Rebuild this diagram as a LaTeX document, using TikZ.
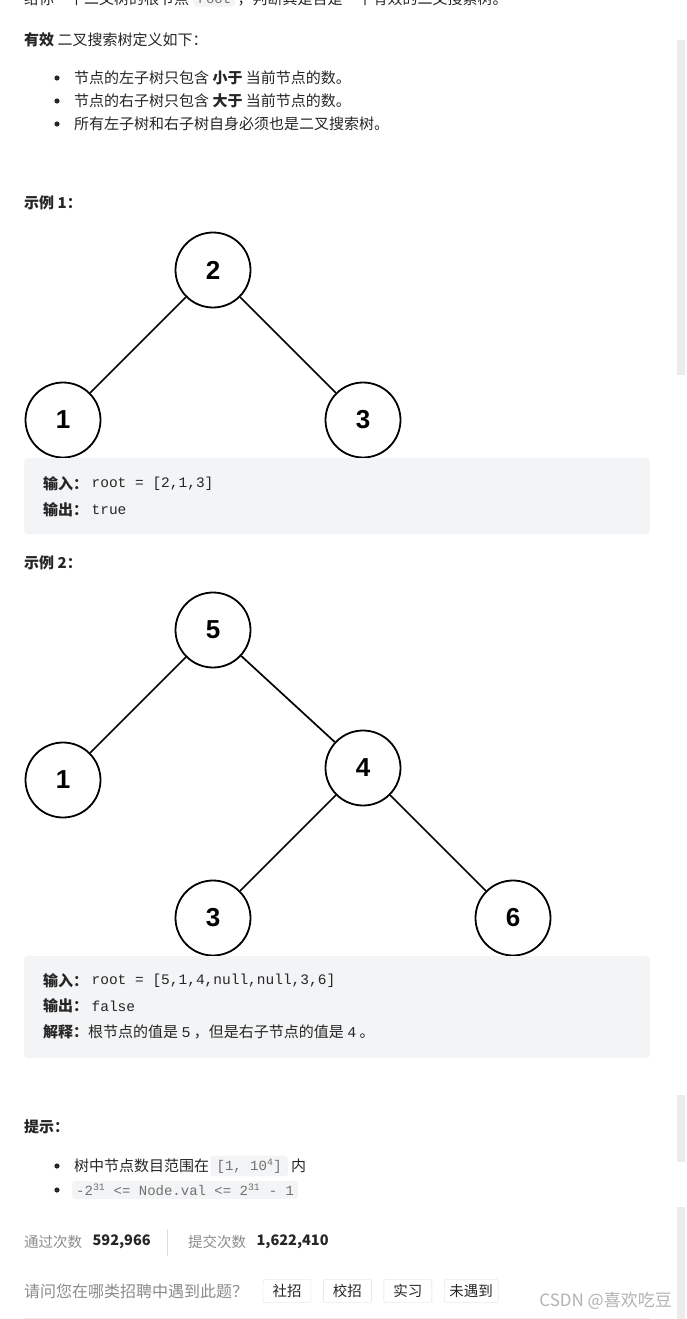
\documentclass[tikz,border=0pt]{standalone}
\usepackage{fontspec}
\setmainfont{Noto Sans CJK SC}
\setmonofont{Liberation Mono}
\newfontfamily\numfont{Liberation Sans}
\usetikzlibrary{positioning}
\definecolor{ink}{RGB}{38,38,38}
\definecolor{softgray}{RGB}{140,140,140}
\definecolor{codebg}{RGB}{243,244,245}
\definecolor{scrollgray}{RGB}{235,235,235}
\definecolor{btnline}{RGB}{220,220,220}

\begin{document}
\begin{tikzpicture}[
        x=1pt,y=-1pt,
        bst/.style={draw,circle,line width=1.8pt,minimum size=75pt,inner sep=0pt,fill=white,font=\numfont\bfseries\fontsize{26}{26}\selectfont},
        edge/.style={line width=1.7pt},
        txt/.style={anchor=west,inner sep=0pt,text=ink,font=\fontsize{15}{18}\selectfont},
        code/.style={anchor=west,inner sep=0pt,text=ink,font=\ttfamily\fontsize{14.5}{17}\selectfont},
        inlinecode/.style={anchor=west,fill=codebg,rounded corners=3pt,inner xsep=4pt,inner ysep=3pt,text=softgray!80!black,font=\ttfamily\fontsize{14}{16}\selectfont},
        codebox/.style={fill=codebg,rounded corners=4pt},
        stat/.style={anchor=west,inner sep=0pt,text=softgray,font=\fontsize{14.5}{17}\selectfont},
        btn/.style={draw=btnline,rounded corners=2pt,minimum width=48pt,minimum height=23pt,inner xsep=5pt,text=ink,font=\fontsize{14.5}{17}\selectfont},
        bullet/.style={fill=ink},
    ]
    \fill[white] (0,0) rectangle (687,1319);
    \useasboundingbox (0,0) rectangle (687,1319);

    % scroll bars at the right edge
    \fill[scrollgray] (677,40) rectangle (685,375);
    \fill[scrollgray] (677,1095) rectangle (685,1162);
    \fill[scrollgray] (677,1207) rectangle (685,1319);

    % statement
    \node[txt] (intro) at (24,-1) {给你一个二叉树的根节点};
    \node[inlinecode,right=4pt of intro] (rootcode) {root};
    \node[txt,right=2pt of rootcode] (introb) {，判断其是否是一个有效的二叉搜索树。};

    \node[txt] (def) at (24,40) {\textbf{有效} 二叉搜索树定义如下：};
    \foreach \y/\t in {78/{节点的左子树只包含 \textbf{小于} 当前节点的数。},
                       101/{节点的右子树只包含 \textbf{大于} 当前节点的数。},
                       124/{所有左子树和右子树自身必须也是二叉搜索树。}} {
        \fill[bullet] (57,\y) circle (2.6);
        \node[txt] at (74,\y) {\t};
    }

    % example 1
    \node[txt] (ex1) at (24,203) {\textbf{示例 1：}};
    \node[bst] (a2) at (213,270) {2};
    \node[bst] (a1) at (63,420) {1};
    \node[bst] (a3) at (363,420) {3};
    \draw[edge] (a2) -- (a1);
    \draw[edge] (a2) -- (a3);
    \fill[codebox] (24,458) rectangle (650,534);
    \node[txt] (in1) at (43,484) {\textbf{输入：}};
    \node[code,right=3pt of in1] {root = [2,1,3]};
    \node[txt] (out1) at (43,510) {\textbf{输出：}};
    \node[code,right=3pt of out1] {true};

    % example 2
    \node[txt] (ex2) at (24,563) {\textbf{示例 2：}};
    \node[bst] (b5) at (213,630) {5};
    \node[bst] (b1) at (63,780) {1};
    \node[bst] (b4) at (363,768) {4};
    \node[bst] (b3) at (213,918) {3};
    \node[bst] (b6) at (513,918) {6};
    \draw[edge] (b5) -- (b1);
    \draw[edge] (b5) -- (b4);
    \draw[edge] (b4) -- (b3);
    \draw[edge] (b4) -- (b6);
    \fill[codebox] (24,956) rectangle (650,1058);
    \node[txt] (in2) at (43,981) {\textbf{输入：}};
    \node[code,right=3pt of in2] {root = [5,1,4,null,null,3,6]};
    \node[txt] (out2) at (43,1006) {\textbf{输出：}};
    \node[code,right=3pt of out2] {false};
    \node[txt] (why) at (43,1032) {\textbf{解释：}根节点的值是 \texttt{5} ，但是右子节点的值是 \texttt{4} 。};

    % hints
    \node[txt] (hint) at (24,1127) {\textbf{提示：}};
    \fill[bullet] (57,1166) circle (2.6);
    \node[txt] (range) at (74,1166) {树中节点数目范围在};
    \node[inlinecode,right=1pt of range,inner xsep=6pt] (rangecode) {[1, 10\textsuperscript{4}]};
    \node[txt,right=3pt of rangecode] {内};
    \fill[bullet] (57,1190) circle (2.6);
    \node[inlinecode,inner xsep=4pt] (valcode) at (72,1190) {-2\textsuperscript{31} <= Node.val <= 2\textsuperscript{31} - 1};

    % statistics
    \node[stat] (passlbl) at (24,1242) {通过次数};
    \node[stat,text=ink,right=10pt of passlbl] (pass) {\textbf{592,966}};
    \draw[btnline] (167,1229) -- (167,1256);
    \node[stat] (sublbl) at (188,1242) {提交次数};
    \node[stat,text=ink,right=10pt of sublbl] (sub) {\textbf{1,622,410}};

    \node[stat,font=\fontsize{16}{19}\selectfont] (ask) at (24,1291) {请问您在哪类招聘中遇到此题？};
    \node[btn] (social) at (287,1291) {社招};
    \node[btn,right=12pt of social] (campus) {校招};
    \node[btn,right=12pt of campus] (intern) {实习};
    \node[btn,right=12pt of intern,minimum width=54pt] (never) {未遇到};

    \node[anchor=east,inner sep=0pt,text=black!30,font=\fontsize{17}{20}\selectfont] (mark) at (672,1301) {CSDN @喜欢吃豆};
    \draw[black!8] (24,1318) -- (650,1318);
\end{tikzpicture}
\end{document}
